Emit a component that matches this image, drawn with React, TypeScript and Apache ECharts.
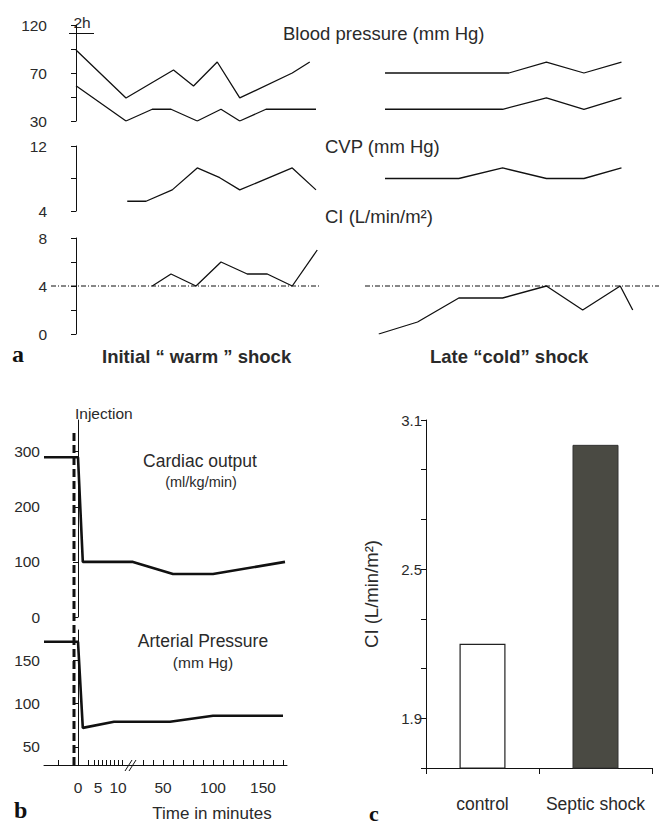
import React, { useEffect, useRef } from "react";
import * as echarts from "echarts";

// ---------- Panel a: hours from first reading ----------
const warmHoursSys = [0, 4, 7.8, 9.4, 11.3, 13.1, 17.3, 18.7];
const warmSys = [96.6, 51.6, 77.8, 62.8, 85.3, 51.6, 75, 85.3];
const warmHoursDia = [0, 4, 6.1, 7.6, 9.7, 11.6, 13.1, 15.2, 19.2];
const warmDia = [63, 30, 41, 41, 30, 41, 30, 41, 41];
const coldHoursSys = [1.6, 7.5, 11.5, 14.5, 17.5, 20.5];
const coldSys = [75, 75, 75, 85.3, 75, 85.3];
const coldHoursDia = [1.6, 7.5, 11, 14.5, 17.5, 20.5];
const coldDia = [41, 41, 41, 51.6, 41, 51.6];
const bpTicks = [30, 52.5, 75, 97.5, 120];
const bpLabels: Record<string, string> = { "30": "30", "75": "70", "120": "120" };

const warmHoursCVP = [4.1, 5.6, 7.7, 9.7, 11.5, 13.1, 17.3, 19.2];
const warmCVP = [5.2, 5.2, 6.6, 9.3, 8.1, 6.6, 9.3, 6.6];
const coldHoursCVP = [1.6, 7.5, 11, 14.5, 17.5, 20.5];
const coldCVP = [8, 8, 9.3, 8, 8, 9.3];
const cvpTicks = [4, 8, 12];
const cvpLabels = [4, 12];

const warmHoursCI = [6.1, 7.6, 9.6, 11.6, 13.7, 15.3, 17.3, 19.3];
const warmCI = [4, 5, 4, 6, 5, 5, 4, 7];
const coldHoursCI = [1.1, 4.2, 7.5, 11, 14.5, 17.4, 20.4, 21.4];
const coldCI = [0, 1, 3, 3, 4, 2, 4, 2];
const ciRef = 4;
const ciTicks = [0, 2, 4, 6, 8];
const ciLabels = [0, 4, 8];

// ---------- Panel b: minutes after injection ----------
const coMinutes = [-8.5, 0, 1.2, 20, 60, 100, 172];
const coValues = [290, 290, 100, 100, 78, 78, 100];
const apMinutes = [-8.5, 0, 1.2, 9, 57, 100, 170];
const apValues = [171, 171, 72, 79, 79, 86, 86];
const injectionMinute = -1;
const coTicks = [0, 100, 200, 300];
const apTicks = [50, 100, 150];
const timeTicks = [-5, 0, 2.5, 4, 5, 6, 7, 8, 9, 10, 11, 30, 40, 50, 60, 70, 80, 90, 100, 110, 120, 130, 140, 150, 160, 170];
const timeLabels = [0, 5, 10, 50, 100, 150];

// ---------- Panel c ----------
const groups = ["control", "Septic shock"];
const ciGroups = [2.2, 3.0];
const cTicks = [1.7, 1.9, 2.1, 2.3, 2.5, 2.7, 2.9, 3.1];
const cLabels = [1.9, 2.5, 3.1];

// broken time axis: 4 px/min up to the break, 1 px/min after it
const brokenAxis = (t: number) => (t <= 12 ? 4 * t : t + 35);

const zip = (xs: number[], ys: number[]) => xs.map((x, i) => [x, ys[i]]);
const FONT = "Liberation Sans, Arial, Helvetica, sans-serif";
const SERIF = "Liberation Serif, Times New Roman, serif";
const INK = "#111";
const TXT = "#2a2a2a";

const lineS = (xi: number, data: number[][], width = 1.3, extra: any = {}) => ({
  type: "line",
  xAxisIndex: xi,
  yAxisIndex: xi,
  data,
  symbol: "none",
  lineStyle: { color: INK, width },
  silent: true,
  ...extra,
});

const yAx = (gi: number, min: number, max: number, ticks: number[], labels: number[], fmt?: (v: number) => string, fs = 15.5) => ({
  gridIndex: gi,
  type: "value",
  min,
  max,
  axisLine: { show: true, lineStyle: { color: INK, width: 1 } },
  axisTick: { show: true, length: 5, customValues: ticks, lineStyle: { color: INK, width: 1 } },
  axisLabel: {
    show: true,
    customValues: labels,
    color: TXT,
    fontSize: fs,
    fontFamily: FONT,
    margin: 4,
    formatter: fmt || ((v: number) => String(v)),
  },
  splitLine: { show: false },
});

const hiddenX = (gi: number, min: number, max: number) => ({
  gridIndex: gi,
  type: "value",
  min,
  max,
  show: false,
  splitLine: { show: false },
});
const hiddenY = (gi: number, min: number, max: number) => ({
  gridIndex: gi,
  type: "value",
  min,
  max,
  show: false,
  splitLine: { show: false },
});

const txt = (text: string, x: number, y: number, size: number, opts: any = {}) => ({
  type: "text",
  x,
  y,
  silent: true,
  style: {
    text,
    fill: opts.fill || TXT,
    font: `${opts.weight || "normal"} ${size}px ${opts.family || FONT}`,
    textAlign: opts.align || "left",
    textVerticalAlign: "middle",
    align: opts.align || "left",
    verticalAlign: "middle",
  },
});

export default function App() {
  const ref = useRef<HTMLDivElement>(null);
  useEffect(() => {
    if (!ref.current) return;
    const chart = echarts.init(ref.current, null, { renderer: "svg" });
    const uMin = -34;
    const uMax = 209;
    const option: any = {
      animation: false,
      backgroundColor: "#fff",
      grid: [
        { left: 51, top: 25, width: 275, height: 96 },
        { left: 51, top: 146, width: 275, height: 65 },
        { left: 51, top: 238, width: 275, height: 96 },
        { left: 365, top: 25, width: 294, height: 96 },
        { left: 365, top: 146, width: 294, height: 65 },
        { left: 365, top: 238, width: 294, height: 96 },
        { left: 44, top: 420, width: 243, height: 197 },
        { left: 44, top: 630, width: 243, height: 135 },
        { left: 44, top: 433, width: 243, height: 332 },
        { left: 426, top: 420, width: 226, height: 348 },
      ],
      xAxis: [
        hiddenX(0, -2, 20),
        hiddenX(1, -2, 20),
        hiddenX(2, -2, 20),
        hiddenX(3, 0, 23.5),
        hiddenX(4, 0, 23.5),
        hiddenX(5, 0, 23.5),
        hiddenX(6, uMin, uMax),
        {
          gridIndex: 7,
          type: "value",
          min: uMin,
          max: uMax,
          axisLine: { show: true, onZero: false, lineStyle: { color: INK, width: 1 } },
          axisTick: {
            show: true,
            inside: true,
            length: 5,
            customValues: timeTicks.map(brokenAxis),
            lineStyle: { color: INK, width: 1 },
          },
          axisLabel: {
            show: true,
            customValues: timeLabels.map(brokenAxis),
            color: TXT,
            fontSize: 15.5,
            fontFamily: FONT,
            margin: 14,
            formatter: (v: number) => {
              const i = timeLabels.map(brokenAxis).findIndex((u) => Math.abs(u - v) < 1e-6);
              return i >= 0 ? String(timeLabels[i]) : "";
            },
          },
          splitLine: { show: false },
        },
        hiddenX(8, uMin, uMax),
        {
          gridIndex: 9,
          type: "category",
          data: groups,
          boundaryGap: true,
          axisLine: { show: true, lineStyle: { color: INK, width: 1 } },
          axisTick: { show: true, length: 6, interval: 0, lineStyle: { color: INK } },
          axisLabel: { color: TXT, fontSize: 17.5, fontFamily: FONT, margin: 27, interval: 0 },
        },
      ],
      yAxis: [
        yAx(0, 30, 120, bpTicks, [30, 75, 120], (v) => bpLabels[String(v)] || ""),
        yAx(1, 4, 12, cvpTicks, cvpLabels),
        yAx(2, 0, 8, ciTicks, ciLabels),
        hiddenY(3, 30, 120),
        hiddenY(4, 4, 12),
        hiddenY(5, 0, 8),
        yAx(6, 0, 357.5, coTicks, coTicks),
        yAx(7, 29.3, 184.5, apTicks, apTicks),
        hiddenY(8, 0, 1),
        {
          ...yAx(9, 1.7, 3.1, cTicks, cLabels, (v) => v.toFixed(1), 15),
          name: "CI (L/min/m²)",
          nameLocation: "middle",
          nameGap: 45,
          nameRotate: 90,
          nameTextStyle: { color: TXT, fontSize: 18.5, fontFamily: FONT },
        },
      ],
      series: [
        lineS(0, zip(warmHoursSys, warmSys)),
        lineS(0, zip(warmHoursDia, warmDia)),
        lineS(1, zip(warmHoursCVP, warmCVP)),
        lineS(2, [[-2, ciRef], [19.6, ciRef]], 1.2, { lineStyle: { color: INK, width: 1.2, type: [5, 2, 1, 2] } }),
        lineS(2, zip(warmHoursCI, warmCI)),
        lineS(3, zip(coldHoursSys, coldSys)),
        lineS(3, zip(coldHoursDia, coldDia)),
        lineS(4, zip(coldHoursCVP, coldCVP)),
        lineS(5, [[0, ciRef], [23.5, ciRef]], 1.2, { lineStyle: { color: INK, width: 1.2, type: [5, 2, 1, 2] } }),
        lineS(5, zip(coldHoursCI, coldCI)),
        lineS(6, coMinutes.map((t, i) => [brokenAxis(t), coValues[i]]), 2.6),
        lineS(7, apMinutes.map((t, i) => [brokenAxis(t), apValues[i]]), 2.6),
        lineS(8, [[brokenAxis(injectionMinute), 0], [brokenAxis(injectionMinute), 1]], 3, {
          lineStyle: { color: INK, width: 3, type: [8, 4] },
        }),
        {
          type: "bar",
          xAxisIndex: 9,
          yAxisIndex: 9,
          barWidth: 46,
          silent: true,
          data: ciGroups.map((v, i) => ({
            value: v,
            itemStyle:
              i === 0
                ? { color: "#ffffff", borderColor: "#222", borderWidth: 1.2 }
                : { color: "#4a4a43", borderColor: "#333", borderWidth: 1 },
          })),
        },
      ],
      graphic: [
        txt("Blood pressure (mm Hg)", 283, 33, 18.5),
        txt("CVP (mm Hg)", 325, 146, 18.5),
        txt("CI (L/min/m²)", 325, 216, 18.5),
        txt("2h", 82, 22, 15.5, { align: "center" }),
        { type: "line", silent: true, shape: { x1: 69, y1: 33.5, x2: 94, y2: 33.5 }, style: { stroke: INK, lineWidth: 1 } },
        txt("Initial “ warm ” shock", 102, 356, 18.5, { weight: "bold" }),
        txt("Late “cold” shock", 430, 356, 18.5, { weight: "bold" }),
        txt("a", 12, 354, 24, { weight: "bold", family: SERIF, fill: "#111" }),
        txt("Injection", 75, 413, 15.5),
        txt("Cardiac output", 200, 461, 17.5, { align: "center" }),
        txt("(ml/kg/min)", 201, 482, 14.5, { align: "center" }),
        txt("Arterial Pressure", 203, 641, 17.5, { align: "center" }),
        txt("(mm Hg)", 203, 662, 15.5, { align: "center" }),
        txt("Time in minutes", 212, 813, 17, { align: "center" }),
        txt("b", 14, 810, 24, { weight: "bold", family: SERIF, fill: "#111" }),
        txt("c", 369, 813, 22, { weight: "bold", family: SERIF, fill: "#111" }),
        { type: "line", silent: true, shape: { x1: 125, y1: 771, x2: 132, y2: 760 }, style: { stroke: INK, lineWidth: 1 } },
        { type: "line", silent: true, shape: { x1: 129, y1: 771, x2: 136, y2: 760 }, style: { stroke: INK, lineWidth: 1 } },
      ],
    };
    chart.setOption(option);
    return () => chart.dispose();
  }, []);
  return (
    <div
      ref={ref}
      style={{ position: "absolute", left: 0, top: 0, width: 659, height: 825, background: "#fff" }}
    />
  );
}
